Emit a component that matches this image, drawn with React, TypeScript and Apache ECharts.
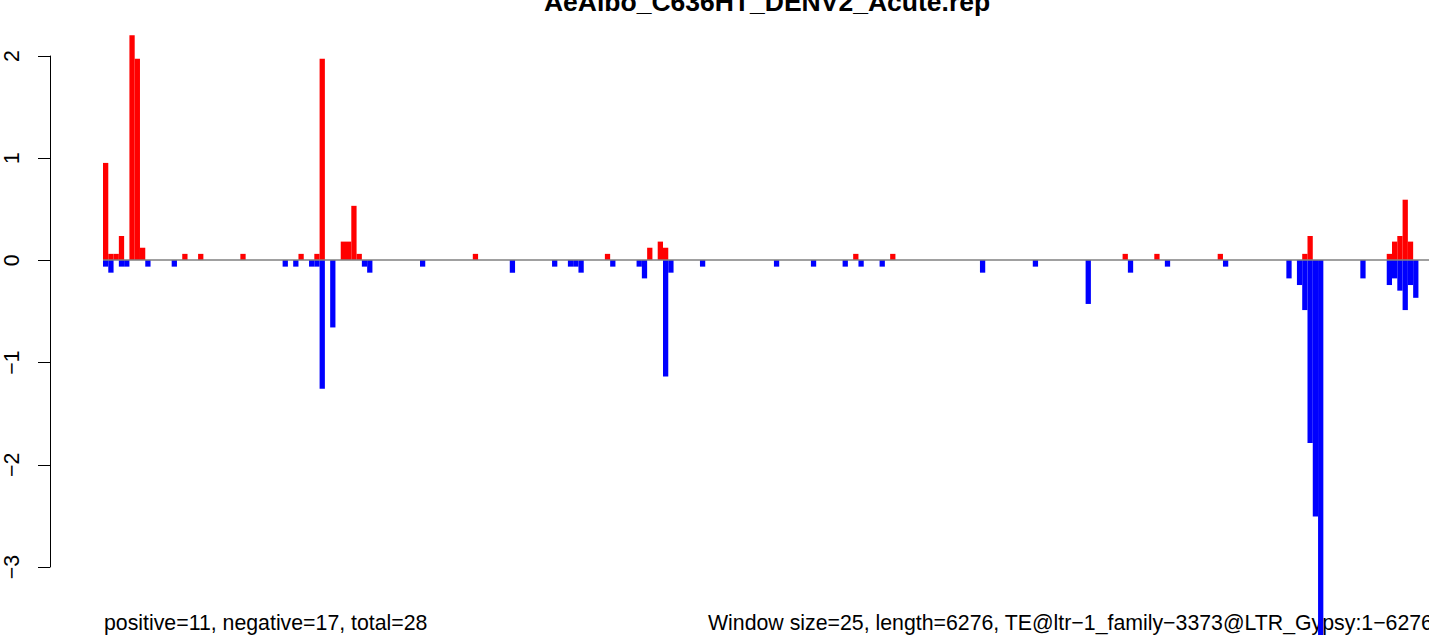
import React, { useEffect, useRef } from "react";
import * as echarts from "echarts";

const TITLE = "AeAlbo_C636HT_DENV2_Acute.rep";
const NOTE_LEFT = "positive=11, negative=17, total=28";
const NOTE_RIGHT = "Window size=25, length=6276, TE@ltr\u22121_family\u22123373@LTR_Gypsy:1\u22126276";

const WINDOW_COUNT = 251;

// [window index, value]
const positiveBins: [number, number][] = [
  [0, 0.95], [1, 0.06], [2, 0.06], [3, 0.235], [5, 2.2], [6, 1.97], [7, 0.12],
  [15, 0.06], [18, 0.06], [26, 0.06], [37, 0.06], [40, 0.06], [41, 1.97],
  [45, 0.18], [46, 0.18], [47, 0.53], [48, 0.06], [70, 0.06], [95, 0.06],
  [103, 0.12], [105, 0.18], [106, 0.12], [142, 0.06], [149, 0.06], [193, 0.06],
  [199, 0.06], [211, 0.06], [227, 0.06], [228, 0.235], [243, 0.06], [244, 0.18],
  [245, 0.235], [246, 0.59], [247, 0.18],
];

const negativeBins: [number, number][] = [
  [0, -0.065], [1, -0.124], [3, -0.065], [4, -0.065], [8, -0.065], [13, -0.065],
  [34, -0.065], [36, -0.065], [39, -0.065], [40, -0.065], [41, -1.26], [43, -0.66],
  [49, -0.065], [50, -0.124], [60, -0.065], [77, -0.124], [85, -0.065], [88, -0.065],
  [89, -0.065], [90, -0.124], [96, -0.065], [101, -0.065], [102, -0.18], [106, -1.14],
  [107, -0.124], [113, -0.065], [127, -0.065], [134, -0.065], [140, -0.065],
  [143, -0.065], [147, -0.065], [166, -0.124], [176, -0.065], [186, -0.43],
  [194, -0.124], [201, -0.065], [212, -0.065], [224, -0.18], [226, -0.245],
  [227, -0.49], [228, -1.79], [229, -2.51], [230, -3.9], [238, -0.18],
  [243, -0.245], [244, -0.18], [245, -0.3], [246, -0.49], [247, -0.245], [248, -0.37],
];

const categories = Array.from({ length: WINDOW_COUNT }, (_, i) => String(i * 25 + 1));

function expand(bins: [number, number][]) {
  const arr: (number | null)[] = new Array(WINDOW_COUNT).fill(null);
  bins.forEach(([k, v]) => {
    arr[k] = v;
  });
  return arr;
}

const FONT = '"Liberation Sans", Arial, Helvetica, sans-serif';

export default function App() {
  const ref = useRef<HTMLDivElement>(null);
  useEffect(() => {
    if (!ref.current) return;
    const chart = echarts.init(ref.current, null, { renderer: "svg" });
    const pxPerUnit = 102.2;
    const zeroY = 260;
    const plotH = 635;
    chart.setOption({
      animation: false,
      backgroundColor: "#ffffff",
      grid: [
        { left: 103, top: 0, width: WINDOW_COUNT * 5.305, height: plotH },
        { left: 50, top: 56, width: 10, height: 511 },
      ],
      xAxis: [
        {
          type: "category",
          gridIndex: 0,
          data: categories,
          show: false,
        },
        { type: "value", gridIndex: 1, show: false, min: 0, max: 1 },
      ],
      yAxis: [
        {
          type: "value",
          gridIndex: 0,
          show: false,
          min: -(plotH - zeroY) / pxPerUnit,
          max: zeroY / pxPerUnit,
        },
        {
          type: "value",
          gridIndex: 1,
          min: -3,
          max: 2,
          interval: 1,
          position: "left",
          axisLine: { show: true, lineStyle: { color: "#000", width: 1 } },
          axisTick: { show: true, inside: false, length: 12, lineStyle: { color: "#000", width: 1 } },
          splitLine: { show: false },
          axisLabel: {
            rotate: 90,
            margin: 28,
            fontSize: 21.3,
            fontFamily: FONT,
            color: "#000",
            formatter: (v: number) => String(v).replace("-", "\u2212"),
          },
        },
      ],
      graphic: [
        {
          type: "text",
          x: 767,
          y: 2,
          style: {
            text: TITLE,
            font: `bold 26.5px ${FONT}`,
            fill: "#000",
            align: "center",
            verticalAlign: "middle",
          },
        },
        {
          type: "text",
          x: 104,
          y: 623,
          style: {
            text: NOTE_LEFT,
            font: `21.3px ${FONT}`,
            fill: "#000",
            align: "left",
            verticalAlign: "middle",
          },
        },
        {
          type: "text",
          x: 708,
          y: 623,
          style: {
            text: NOTE_RIGHT,
            font: `21.3px ${FONT}`,
            fill: "#000",
            align: "left",
            verticalAlign: "middle",
          },
        },
      ],
      series: [
        {
          name: "positive",
          type: "bar",
          xAxisIndex: 0,
          yAxisIndex: 0,
          data: expand(positiveBins),
          barWidth: "100%",
          barGap: "-100%",
          barCategoryGap: 0,
          itemStyle: { color: "#ff0000" },
          z: 3,
        },
        {
          name: "negative",
          type: "bar",
          xAxisIndex: 0,
          yAxisIndex: 0,
          data: expand(negativeBins),
          barWidth: "100%",
          barGap: "-100%",
          barCategoryGap: 0,
          itemStyle: { color: "#0000ff" },
          z: 3,
          markLine: {
            silent: true,
            symbol: "none",
            label: { show: false },
            lineStyle: { color: "#808080", width: 1.5, type: "solid" },
            data: [{ yAxis: 0 }],
            z: 4,
          },
        },
      ],
    });
    return () => chart.dispose();
  }, []);
  return (
    <div
      ref={ref}
      style={{ position: "absolute", left: 0, top: 0, width: 1429, height: 635 }}
    />
  );
}
